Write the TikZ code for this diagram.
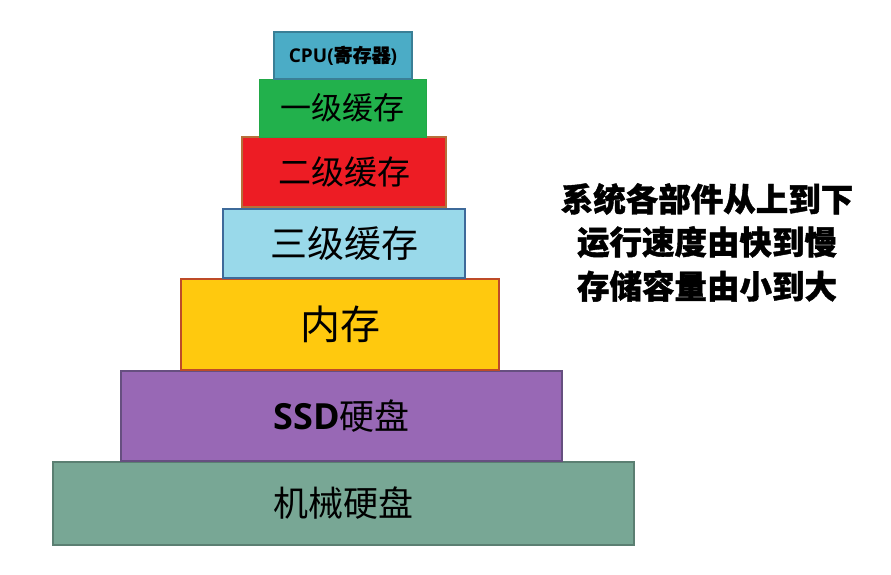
\documentclass[tikz,border=0pt]{standalone}
\usepackage{fontspec}
\newfontfamily\cjk{Noto Sans CJK SC}
\newfontfamily\cjkheavy[BoldFeatures={FakeBold=1.2}]{Noto Sans CJK SC}
\newfontfamily\latb{Open Sans}
\definecolor{cpuF}{HTML}{4BACC6}\definecolor{cpuD}{HTML}{3A7F96}
\definecolor{lonF}{HTML}{22B14C}\definecolor{lonD}{HTML}{22A848}
\definecolor{ltwF}{HTML}{ED1C24}\definecolor{ltwD}{HTML}{B5703A}
\definecolor{lthF}{HTML}{99D9EA}\definecolor{lthD}{HTML}{3E6A9A}
\definecolor{memF}{HTML}{FFC90E}\definecolor{memD}{HTML}{BE4B28}
\definecolor{ssdF}{HTML}{9868B5}\definecolor{ssdD}{HTML}{664F80}
\definecolor{hddF}{HTML}{78A795}\definecolor{hddD}{HTML}{5B7F72}
\newcommand\fs[1]{\fontsize{#1}{#1}\selectfont}
\tikzset{
  layer/.style={draw, line width=1.5pt, inner sep=0pt, text=black, font=\cjk\fs{31}},
  note/.style={font=\cjkheavy\bfseries\fs{32.5}, text=black, inner sep=0pt}
}
\begin{document}
\begin{tikzpicture}[x=1pt,y=-1pt]
\useasboundingbox (0,0) rectangle (891,574);
\node[layer, fill=hddF, draw=hddD, minimum width=581pt, minimum height=83pt, font=\cjk\fs{35}] (hdd) at (343.5,503.5) {机械硬盘};
\node[layer, fill=ssdF, draw=ssdD, minimum width=441pt, minimum height=90pt, font=\cjk\fs{35}] (ssd) at (341.5,416) {{\latb\bfseries\fs{36}SSD}硬盘};
\node[layer, fill=memF, draw=memD, minimum width=318pt, minimum height=91pt, font=\cjk\fs{40}] (mem) at (340,324.5) {内存};
\node[layer, fill=lthF, draw=lthD, minimum width=242pt, minimum height=69pt, font=\cjk\fs{37}] (l3) at (344,243.5) {三级缓存};
\node[layer, fill=ltwF, draw=ltwD, minimum width=204pt, minimum height=70pt, font=\cjk\fs{33}] (l2) at (344,172) {二级缓存};
\node[layer, fill=lonF, draw=lonD, line width=0.8pt, minimum width=167pt, minimum height=58pt, font=\cjk\fs{31}] (l1) at (342.5,108) {一级缓存};
\node[layer, fill=cpuF, draw=cpuD, minimum width=138pt, minimum height=47pt, font=\cjkheavy\bfseries\fs{19}] (cpu) at (343,55.5) {{\latb\bfseries CPU(}寄存器{\latb\bfseries )}};
\node[note] (t1) at (707,199) {系统各部件从上到下};
\node[note] (t2) at (707,242) {运行速度由快到慢};
\node[note] (t3) at (707,286) {存储容量由小到大};
\end{tikzpicture}
\end{document}
